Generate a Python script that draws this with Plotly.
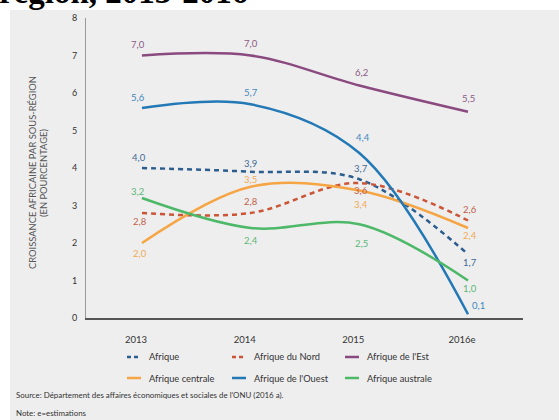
import plotly.graph_objects as go

years = ["2013", "2014", "2015", "2016e"]
afrique = [4.0, 3.9, 3.7, 1.7]
afrique_nord = [2.8, 2.8, 3.6, 2.6]
afrique_est = [7.0, 7.0, 6.2, 5.5]
afrique_centrale = [2.0, 3.5, 3.4, 2.4]
afrique_ouest = [5.6, 5.7, 4.4, 0.1]
afrique_australe = [3.2, 2.4, 2.5, 1.0]
y_ticks = [0, 1, 2, 3, 4, 5, 6, 7, 8]

series = [
    ("Afrique", afrique, "#2c5d8f", "#3f6a96", "5px,4px"),
    ("Afrique du Nord", afrique_nord, "#cb5536", "#c0604a", "5px,4px"),
    ("Afrique de l'Est", afrique_est, "#8a4a80", "#8c5a84", "solid"),
    ("Afrique centrale", afrique_centrale, "#f5a544", "#f0a954", "solid"),
    ("Afrique de l'Ouest", afrique_ouest, "#2379b6", "#3f86bd", "solid"),
    ("Afrique australe", afrique_australe, "#4cb868", "#5bb675", "solid"),
]
# label offsets in px (style)
offsets = {
    "Afrique": [(-3, 11), (0, 8), (2, 11), (2, -8)],
    "Afrique du Nord": [(-2, -8), (0, 12), (2, -7), (2, 11)],
    "Afrique de l'Est": [(-4, 11), (0, 12), (2, 13), (0, 13)],
    "Afrique centrale": [(-2, -10), (0, 7), (2, -14), (2, -7)],
    "Afrique de l'Ouest": [(-4, 11), (0, 12), (4, 16), (10, 9)],
    "Afrique australe": [(-4, 7), (0, -12), (2, -19), (2, -8)],
}

# plot area geometry (px) for decoration placement
L, T, W, H = 86, 18, 437, 300
def px(x):
    return (x - L) / W
def py(y):
    return (T + H - y) / H

# legend layout (style): column text start x, row y
legend_cols = [147, 252, 365]
legend_rows = [357, 378]

fig = go.Figure()
ann = []
shapes = [
    dict(type="rect", xref="paper", yref="paper", x0=-0.3, x1=1.2, y0=py(10), y1=1.3,
         fillcolor="white", line=dict(width=0), layer="below"),
    dict(type="rect", xref="paper", yref="paper", x0=-0.3, x1=px(10), y0=-0.5, y1=1.3,
         fillcolor="white", line=dict(width=0), layer="below"),
]
for k, (name, vals, col, lcol, dash) in enumerate(series):
    fig.add_trace(go.Scatter(
        x=list(range(len(years))), y=vals, name=name, mode="lines", showlegend=False,
        line=dict(color=col, width=2.5, dash=dash, shape="spline", smoothing=1.0),
    ))
    for i, v in enumerate(vals):
        dx, dy = offsets[name][i]
        ann.append(dict(x=i, y=v, xref="x", yref="y", text=f"{v:.1f}".replace(".", ","),
                        showarrow=False, xshift=dx, yshift=dy,
                        font=dict(family="Lato", size=9.5, color=lcol)))
    # custom legend entry
    tx = legend_cols[k % 3]
    ty = legend_rows[k // 3]
    shapes.append(dict(type="line", xref="paper", yref="paper",
                       x0=px(tx - 20), x1=px(tx - 6), y0=py(ty), y1=py(ty),
                       line=dict(color=col, width=2.5, dash="4px,3px" if dash != "solid" else "solid")))
    ann.append(dict(x=px(tx), y=py(ty), xref="paper", yref="paper", xanchor="left", yanchor="middle",
                    text=name, showarrow=False, font=dict(family="Lato", size=9.3, color="#333333")))

GREY = "#eeeeee"
# title fragment
ann.append(dict(x=px(-3), y=py(-8), xref="paper", yref="paper", xanchor="left", yanchor="middle",
                text="<b>région, 2013-2016</b>", showarrow=False,
                font=dict(family="Liberation Serif", size=33, color="#000000")))
# y-axis title, two centred lines
for txt, xc in [("CROISSANCE AFRICAINE PAR SOUS-RÉGION", 33), ("(EN POURCENTAGE)", 44)]:
    ann.append(dict(x=px(xc), y=py(173), xref="paper", yref="paper", xanchor="center", yanchor="middle",
                    text=txt, textangle=-90, showarrow=False,
                    font=dict(family="Lato", size=9.4, color="#555555")))
ann.append(dict(x=px(14), y=py(395), xref="paper", yref="paper", xanchor="left", yanchor="middle",
                text="Source: Département des affaires économiques et sociales de l'ONU (2016 a).",
                showarrow=False, font=dict(family="Lato", size=7.9, color="#333333")))
ann.append(dict(x=px(14), y=py(413), xref="paper", yref="paper", xanchor="left", yanchor="middle",
                text="Note: e=estimations",
                showarrow=False, font=dict(family="Lato", size=7.9, color="#333333")))

fig.update_layout(
    width=559, height=420,
    margin=dict(l=L, r=559 - L - W, t=T, b=420 - T - H),
    paper_bgcolor=GREY, plot_bgcolor=GREY,
    font=dict(family="Lato", size=9, color="#333333"),
    annotations=ann, shapes=shapes,
    xaxis=dict(range=[-0.515, 3.506], tickvals=list(range(len(years))), ticktext=years,
               showgrid=False, zeroline=False, showline=True, linecolor="#555555", linewidth=1.5,
               ticks="", ticklabelshift=-6, ticklabelstandoff=12,
               tickfont=dict(family="Lato", size=9.5, color="#333333")),
    yaxis=dict(range=[0, 8], tickvals=y_ticks, showgrid=False, zeroline=False,
               showline=True, linecolor="#999999", linewidth=1, ticks="",
               ticklabelstandoff=6,
               tickfont=dict(family="Lato", size=9, color="#333333")),
    showlegend=False,
)

fig.write_html("out.html")
